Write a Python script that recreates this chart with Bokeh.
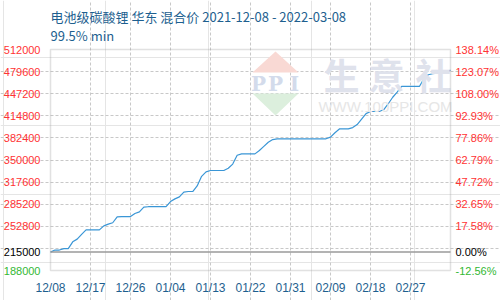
import datetime as dt
from bokeh.plotting import figure
from bokeh.models import (FixedTicker, LinearAxis, Label, Grid, BoxAnnotation,
                          Range1d, ColumnDataSource)
from bokeh.embed import file_html
from bokeh.resources import INLINE

# ---------------- data ----------------
start_date = "2021-12-08"
end_date = "2022-03-08"
base_price = 215000
prices = [
    215000, 218000, 218000, 220000, 220000, 230000, 234000, 241000, 247500, 247500,
    247500, 247500, 253500, 256000, 258000, 266500, 267000, 267000, 267000, 271500,
    274000, 281000, 281500, 281500, 281500, 281500, 281500, 289000, 293000, 296000,
    303000, 303800, 303800, 312000, 326000, 332500, 334600, 334600, 334600, 334600,
    338000, 344000, 357000, 359000, 359000, 359000, 359000, 364000, 370000, 376000,
    380000, 381100, 381100, 381100, 381100, 381100, 381100, 381100, 381100, 381100,
    381100, 381100, 381100, 383500, 390000, 395500, 395700, 395700, 397500, 402000,
    410000, 418000, 421100, 421100, 421100, 424000, 432500, 442000, 449400, 457800,
    457800, 457800, 457800, 457800, 469000, 475000, 476500, 477300, 477300, 477300,
    482000,
]
grid_y_ticks = [220400, 252800, 285200, 317600, 350000, 382400, 414800, 447200, 479600]
y_ticks = [252800, 285200, 317600, 350000, 382400, 414800, 447200, 479600, 512000]
y_tick_labels = ["252800", "285200", "317600", "350000", "382400",
                 "414800", "447200", "479600", "512000"]
pct_tick_labels = ["17.58%", "32.65%", "47.72%", "62.79%", "77.86%",
                   "92.93%", "108.00%", "123.07%", "138.14%"]
y_min, y_max = 188000, 512000
x_tick_labels = ["12/08", "12/17", "12/26", "01/04", "01/13", "01/22",
                 "01/31", "02/09", "02/18", "02/27"]
title_text = "电池级碳酸锂 华东 混合价 2021-12-08 - 2022-03-08"
subtitle_text = "99.5% min"

# ---------------- build ----------------
epoch = dt.datetime(1970, 1, 1)


def ms(d):
    return (d - epoch).total_seconds() * 1000.0


d0 = dt.datetime.fromisoformat(start_date)
d1 = dt.datetime.fromisoformat(end_date)
dates = [d0 + dt.timedelta(days=i) for i in range(len(prices))]
x_ticks = [ms(d0 + dt.timedelta(days=9 * i)) for i in range(len(x_tick_labels))]

W, H = 500, 300
L, R, T, B = 50, 450, 49, 270  # plot box in pixels


def px2x(px):
    return ms(d0) + (ms(d1) - ms(d0)) * ((px - L) / (R - L))


def px2y(py):
    return y_min + (B - py) / (B - T) * (y_max - y_min)


p = figure(width=W, height=H,
           x_range=Range1d(px2x(0), px2x(W)), y_range=Range1d(px2y(H), px2y(0)),
           x_axis_location=None, y_axis_location=None,
           output_backend="svg", toolbar_location=None,
           min_border=0, min_border_left=0, min_border_right=0,
           min_border_top=0, min_border_bottom=0,
           background_fill_color="white", border_fill_color="white")
p.outline_line_color = None

red = "#ff3333"
green = "#33b833"
blue_txt = "#1e5f8f"
grid_col = "#c8c8c8"
lf = "Liberation Sans"

# grids restricted to the plot box
p.add_layout(Grid(dimension=0, ticker=FixedTicker(ticks=x_ticks[1:]),
                  bounds=(y_min, y_max), grid_line_color=grid_col,
                  grid_line_dash="3 2"))
p.add_layout(Grid(dimension=1, ticker=FixedTicker(ticks=grid_y_ticks),
                  bounds=(ms(d0), ms(d1)), grid_line_color=grid_col,
                  grid_line_dash="3 2"))


def style_axis(ax, color, standoff, size="11px"):
    ax.axis_line_color = None
    ax.major_tick_line_color = None
    ax.minor_tick_line_color = None
    ax.major_tick_out = 0
    ax.major_tick_in = 0
    ax.major_label_standoff = standoff
    ax.major_label_text_color = color
    ax.major_label_text_font = lf
    ax.major_label_text_font_size = size


# bottom axis (dates)
xa = LinearAxis(ticker=FixedTicker(ticks=x_ticks), fixed_location=y_min)
xa.major_label_overrides = {x_ticks[i]: x_tick_labels[i] for i in range(len(x_ticks))}
style_axis(xa, blue_txt, 10, "12px")
p.add_layout(xa, "below")

# left axis (price) and right axis (% change)
ya = LinearAxis(ticker=FixedTicker(ticks=y_ticks), fixed_location=ms(d0))
ya.major_label_overrides = {y_ticks[i]: y_tick_labels[i] for i in range(len(y_ticks))}
style_axis(ya, red, 10)
p.add_layout(ya, "left")

ra = LinearAxis(ticker=FixedTicker(ticks=y_ticks), fixed_location=ms(d1))
ra.major_label_overrides = {y_ticks[i]: pct_tick_labels[i] for i in range(len(y_ticks))}
style_axis(ra, red, 5)
p.add_layout(ra, "right")

# special coloured tick labels: base price (black) and minimum (green)
pct_base = "0.00%"
pct_min = "%.2f%%" % ((y_min - base_price) / base_price * 100)
for tick, ltxt, rtxt, col in [(base_price, str(base_price), pct_base, "black"),
                              (y_min, str(y_min), pct_min, green)]:
    la = LinearAxis(ticker=FixedTicker(ticks=[tick]), fixed_location=ms(d0))
    la.major_label_overrides = {tick: ltxt}
    style_axis(la, col, 10)
    p.add_layout(la, "left")
    rx = LinearAxis(ticker=FixedTicker(ticks=[tick]), fixed_location=ms(d1))
    rx.major_label_overrides = {tick: rtxt}
    style_axis(rx, col, 5)
    p.add_layout(rx, "right")

# watermark
p.patch([px2x(252), px2x(275), px2x(298)], [px2y(72), px2y(51), px2y(72)],
        fill_color="#f9d9d4", line_color=None)
p.patch([px2x(252), px2x(275), px2x(298)], [px2y(93), px2y(115), px2y(93)],
        fill_color="#dcefdd", line_color=None)
for ch, cx in zip(["P", "P", "I"], [258, 275, 294]):
    p.add_layout(Label(x=px2x(cx), y=px2y(83), text=ch, text_align="center",
                       text_baseline="middle", text_font="DejaVu Serif",
                       text_font_style="bold", text_font_size="20px",
                       text_color="#d3dbeb"))
for ch, cx in zip(["生", "意", "社"], [341, 386, 433]):
    p.add_layout(Label(x=px2x(cx), y=px2y(73), text=ch, text_align="center",
                       text_baseline="middle", text_font="Noto Sans CJK SC",
                       text_font_style="bold", text_font_size="36px",
                       text_color="#dfe2ec"))
p.add_layout(Label(x=px2x(385), y=px2y(106), text="WWW.100PPI.COM",
                   text_align="center", text_baseline="middle", text_font=lf,
                   text_font_size="15px", text_color="#e6e6e6"))

# data line
src = ColumnDataSource(dict(x=dates, y=prices))
p.line("x", "y", source=src, line_color="#3a96d6", line_width=1.2)

# base-price line and plot box
p.segment(x0=[ms(d0)], y0=[base_price], x1=[ms(d1)], y1=[base_price],
          line_color="#9a9a9a", line_width=1.5)
p.add_layout(BoxAnnotation(left=ms(d0), right=ms(d1), bottom=y_min, top=y_max,
                           fill_color=None, line_color="#9a9a9a", line_width=1.5))

# titles
p.add_layout(Label(x=px2x(50), y=px2y(16), text=title_text, text_align="left",
                   text_baseline="middle", text_font="Noto Sans CJK SC",
                   text_font_size="13px", text_color=blue_txt))
p.add_layout(Label(x=px2x(50), y=px2y(35), text=subtitle_text, text_align="left",
                   text_baseline="middle", text_font="Noto Sans CJK SC",
                   text_font_size="13px", text_color=blue_txt))

open("out.html", "w").write(file_html(p, INLINE))
